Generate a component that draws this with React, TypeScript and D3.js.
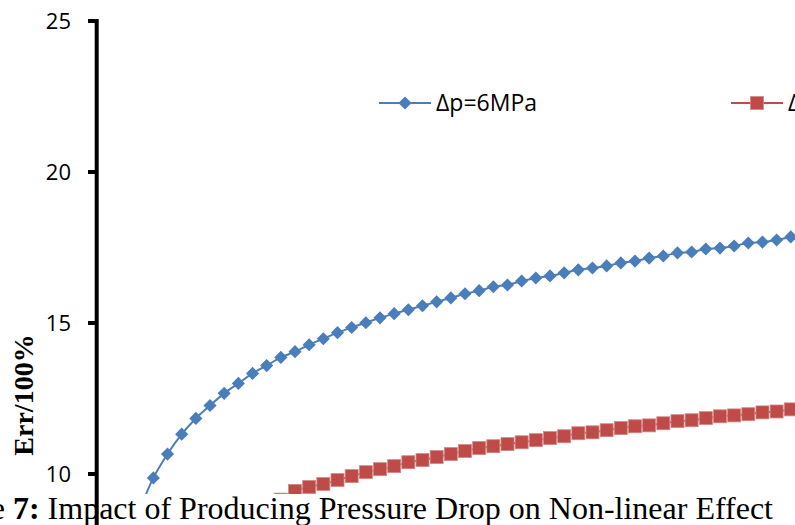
import React, { useEffect, useRef } from 'react';
import * as d3 from 'd3';

// Err/100% values; x is the point index along the (hidden) x axis
const blueStart = 3;
const blueValues = [
  8.78, 9.87, 10.66, 11.32, 11.84, 12.27, 12.67, 13.0, 13.33, 13.59, 13.86, 14.05,
  14.28, 14.48, 14.68, 14.85, 15.01, 15.17, 15.31, 15.44, 15.57, 15.7, 15.83, 15.97,
  16.07, 16.2, 16.26, 16.39, 16.49, 16.56, 16.66, 16.76, 16.82, 16.89, 16.99, 17.05,
  17.15, 17.22, 17.32, 17.35, 17.45, 17.48, 17.55, 17.65, 17.68, 17.75, 17.85,
];
const redStart = 13;
const redValues = [
  9.15, 9.44, 9.57, 9.67, 9.8, 9.93, 10.06, 10.16, 10.26, 10.39, 10.46, 10.56, 10.66,
  10.76, 10.86, 10.92, 10.99, 11.05, 11.12, 11.19, 11.25, 11.35, 11.38, 11.45, 11.52,
  11.58, 11.61, 11.68, 11.75, 11.78, 11.85, 11.91, 11.94, 11.98, 12.04, 12.07, 12.14,
];
const seriesNames = ['Δp=6MPa', 'Δp=4MPa'];
const yTicks = [10, 15, 20, 25];
const lastIndex = 49;

const BLUE = '#4A7EBB';
const RED = '#BE4B48';

const App = () => {
  const ref = useRef<SVGSVGElement>(null);

  useEffect(() => {
    const width = 795;
    const height = 525;
    const svg = d3.select(ref.current);
    svg.selectAll('*').remove();
    svg.attr('width', width).attr('height', height);

    const x = d3.scaleLinear().domain([0, lastIndex]).range([96.7, 790.8]);
    const y = d3.scaleLinear().domain([25, 10]).range([21, 474]);

    const blue = blueValues.map((v, i) => ({ i: i + blueStart, v }));
    const red = redValues.map((v, i) => ({ i: i + redStart, v }));

    const line = d3
      .line<{ i: number; v: number }>()
      .x((d) => x(d.i))
      .y((d) => y(d.v))
      .curve(d3.curveMonotoneX);

    const diamond = d3.symbol().type(d3.symbolDiamond2).size(110);

    // blue series
    svg.append('path').datum(blue).attr('d', line).attr('fill', 'none')
      .attr('stroke', BLUE).attr('stroke-width', 2);
    svg.selectAll('.dia').data(blue).enter().append('path')
      .attr('d', diamond)
      .attr('transform', (d) => `translate(${x(d.i)},${y(d.v)})`)
      .attr('fill', BLUE);

    // red series
    svg.append('path').datum(red).attr('d', line).attr('fill', 'none')
      .attr('stroke', RED).attr('stroke-width', 2);
    svg.selectAll('.sq').data(red).enter().append('rect')
      .attr('x', (d) => x(d.i) - 6.5)
      .attr('y', (d) => y(d.v) - 6.5)
      .attr('width', 13).attr('height', 13)
      .attr('fill', RED).attr('stroke', '#D08A88').attr('stroke-width', 0.8);

    // legend
    const legendY = 103;
    const lg = [
      { x0: 379, name: seriesNames[0], color: BLUE, kind: 'dia' },
      { x0: 731, name: seriesNames[1], color: RED, kind: 'sq' },
    ];
    lg.forEach((l) => {
      svg.append('line').attr('x1', l.x0).attr('x2', l.x0 + 52)
        .attr('y1', legendY).attr('y2', legendY)
        .attr('stroke', l.color).attr('stroke-width', 2);
      if (l.kind === 'dia') {
        svg.append('path').attr('d', diamond)
          .attr('transform', `translate(${l.x0 + 26},${legendY})`).attr('fill', l.color);
      } else {
        svg.append('rect').attr('x', l.x0 + 19.5).attr('y', legendY - 6.5)
          .attr('width', 13).attr('height', 13).attr('fill', l.color)
          .attr('stroke', '#D08A88').attr('stroke-width', 0.8);
      }
      svg.append('text').attr('x', l.x0 + 57).attr('y', legendY)
        .attr('dy', '0.35em').attr('font-family', 'Open Sans').attr('font-size', 23)
        .attr('fill', '#000').text(l.name);
    });

    // y tick labels
    svg.selectAll('.tl').data(yTicks).enter().append('text')
      .attr('x', 71).attr('y', (d) => y(d)).attr('dy', '0.35em')
      .attr('text-anchor', 'end').attr('font-family', 'Open Sans').attr('font-size', 22)
      .attr('fill', '#000').text((d) => d);

    // y axis title
    svg.append('text').attr('transform', 'translate(33,395) rotate(-90)')
      .attr('text-anchor', 'middle').attr('font-family', 'Liberation Serif')
      .attr('font-weight', 'bold').attr('font-size', 28).attr('fill', '#000')
      .text('Err/100%');

    // caption band covering the bottom of the plot
    svg.append('rect').attr('x', 0).attr('y', 494).attr('width', width)
      .attr('height', height - 494).attr('fill', '#fff');
    const cap = svg.append('text').attr('x', 773).attr('y', 519)
      .attr('text-anchor', 'end').attr('font-family', 'Liberation Serif')
      .attr('font-size', 32).attr('fill', '#000');
    cap.append('tspan').text('Figure ');
    cap.append('tspan').attr('font-weight', 'bold').text('7:');
    cap.append('tspan').text(' Impact of Producing Pressure Drop on Non-linear Effect');

    // y axis line and ticks
    svg.append('line').attr('x1', 96.7).attr('x2', 96.7).attr('y1', 19).attr('y2', height)
      .attr('stroke', '#000').attr('stroke-width', 4);
    svg.selectAll('.tk').data(yTicks).enter().append('line')
      .attr('x1', 88).attr('x2', 96.7).attr('y1', (d) => y(d)).attr('y2', (d) => y(d))
      .attr('stroke', '#000').attr('stroke-width', 4);
  }, []);

  return (
    <div style={{ position: 'absolute', left: 0, top: 0 }}>
      <svg ref={ref} style={{ display: 'block' }}></svg>
    </div>
  );
};

export default App;
